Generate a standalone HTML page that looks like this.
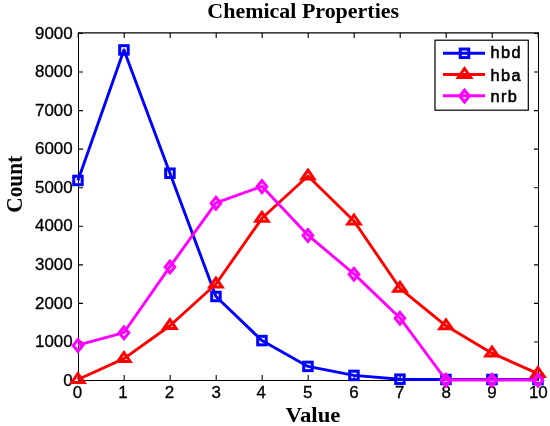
<!DOCTYPE html><html><head><meta charset="utf-8"><style>html,body{margin:0;padding:0;background:#fff;}svg{display:block}</style></head><body>
<svg width="550" height="426" viewBox="0 0 550 426">
<rect width="550" height="426" fill="#fff"/>
<path d="M78.5 32.3V381M538.5 32.3V381" stroke="#000" stroke-width="1" fill="none"/>
<path d="M78 32.9H539M78 380.5H539" stroke="#000" stroke-width="1.2" fill="none"/>
<path d="M78.20 380V375M78.20 33V38M124.20 380V375M124.20 33V38M170.20 380V375M170.20 33V38M216.20 380V375M216.20 33V38M262.20 380V375M262.20 33V38M308.20 380V375M308.20 33V38M354.20 380V375M354.20 33V38M400.20 380V375M400.20 33V38M446.20 380V375M446.20 33V38M492.20 380V375M492.20 33V38M538.20 380V375M538.20 33V38M78 380.50H83M539 380.50H534M78 341.94H83M539 341.94H534M78 303.39H83M539 303.39H534M78 264.83H83M539 264.83H534M78 226.28H83M539 226.28H534M78 187.72H83M539 187.72H534M78 149.16H83M539 149.16H534M78 110.61H83M539 110.61H534M78 72.05H83M539 72.05H534M78 33.50H83M539 33.50H534" stroke="#000" stroke-width="1.1" fill="none"/>
<g font-family="Liberation Sans, Arial, sans-serif" font-size="16" fill="#000" stroke="#000" stroke-width="0.3">
<text transform="translate(72.7,385.70) scale(1.06,1)" text-anchor="end">0</text>
<text transform="translate(72.7,347.14) scale(1.06,1)" text-anchor="end">1000</text>
<text transform="translate(72.7,308.59) scale(1.06,1)" text-anchor="end">2000</text>
<text transform="translate(72.7,270.03) scale(1.06,1)" text-anchor="end">3000</text>
<text transform="translate(72.7,231.48) scale(1.06,1)" text-anchor="end">4000</text>
<text transform="translate(72.7,192.92) scale(1.06,1)" text-anchor="end">5000</text>
<text transform="translate(72.7,154.36) scale(1.06,1)" text-anchor="end">6000</text>
<text transform="translate(72.7,115.81) scale(1.06,1)" text-anchor="end">7000</text>
<text transform="translate(72.7,77.25) scale(1.06,1)" text-anchor="end">8000</text>
<text transform="translate(72.7,38.70) scale(1.06,1)" text-anchor="end">9000</text>
<text transform="translate(77.35,398.3) scale(1.06,1)" text-anchor="middle">0</text>
<text transform="translate(122.85,398.3) scale(1.06,1)" text-anchor="middle">1</text>
<text transform="translate(169.35,398.3) scale(1.06,1)" text-anchor="middle">2</text>
<text transform="translate(216.25,398.3) scale(1.06,1)" text-anchor="middle">3</text>
<text transform="translate(261.20,398.3) scale(1.06,1)" text-anchor="middle">4</text>
<text transform="translate(307.80,398.3) scale(1.06,1)" text-anchor="middle">5</text>
<text transform="translate(354.05,398.3) scale(1.06,1)" text-anchor="middle">6</text>
<text transform="translate(399.70,398.3) scale(1.06,1)" text-anchor="middle">7</text>
<text transform="translate(446.25,398.3) scale(1.06,1)" text-anchor="middle">8</text>
<text transform="translate(492.05,398.3) scale(1.06,1)" text-anchor="middle">9</text>
<text transform="translate(538.35,398.3) scale(1.06,1)" text-anchor="middle">10</text>
</g>
<g font-family="Liberation Serif, Times New Roman, serif" font-weight="bold" fill="#000">
<text font-size="20" transform="translate(303.2,17.8) scale(1.098,1)" text-anchor="middle">Chemical Properties</text>
<text font-size="21" transform="translate(313,421.8) scale(1.085,1)" text-anchor="middle">Value</text>
<text font-size="21" transform="translate(21.6,184.3) rotate(-90) scale(1.016,1.08)" text-anchor="middle">Count</text>
</g>
<polyline points="77.95,180.46 123.95,49.94 169.95,173.22 215.95,296.49 261.95,340.58 307.95,366.41 353.95,375.42 399.95,379.19 445.95,379.50 491.95,379.50 537.95,379.50" fill="none" stroke="#00f" stroke-width="2.9" stroke-linejoin="round"/>
<rect x="73.70" y="176.21" width="8.5" height="8.5" fill="none" stroke="#00f" stroke-width="3"/>
<rect x="119.70" y="45.69" width="8.5" height="8.5" fill="none" stroke="#00f" stroke-width="3"/>
<rect x="165.70" y="168.97" width="8.5" height="8.5" fill="none" stroke="#00f" stroke-width="3"/>
<rect x="211.70" y="292.24" width="8.5" height="8.5" fill="none" stroke="#00f" stroke-width="3"/>
<rect x="257.70" y="336.33" width="8.5" height="8.5" fill="none" stroke="#00f" stroke-width="3"/>
<rect x="303.70" y="362.16" width="8.5" height="8.5" fill="none" stroke="#00f" stroke-width="3"/>
<rect x="349.70" y="371.17" width="8.5" height="8.5" fill="none" stroke="#00f" stroke-width="3"/>
<rect x="395.70" y="374.94" width="8.5" height="8.5" fill="none" stroke="#00f" stroke-width="3"/>
<rect x="441.70" y="375.25" width="8.5" height="8.5" fill="none" stroke="#00f" stroke-width="3"/>
<rect x="487.70" y="375.25" width="8.5" height="8.5" fill="none" stroke="#00f" stroke-width="3"/>
<rect x="533.70" y="375.25" width="8.5" height="8.5" fill="none" stroke="#00f" stroke-width="3"/>
<polyline points="77.95,379.50 123.95,358.56 169.95,325.72 215.95,284.02 261.95,218.30 307.95,176.03 353.95,221.00 399.95,288.29 445.95,325.79 491.95,353.20 537.95,373.61" fill="none" stroke="#f00" stroke-width="2.9" stroke-linejoin="round"/>
<path d="M77.95 373.50L84.15 382.40L71.75 382.40Z" fill="none" stroke="#f00" stroke-width="3" stroke-linejoin="miter"/>
<path d="M123.95 352.56L130.15 361.46L117.75 361.46Z" fill="none" stroke="#f00" stroke-width="3" stroke-linejoin="miter"/>
<path d="M169.95 319.72L176.15 328.62L163.75 328.62Z" fill="none" stroke="#f00" stroke-width="3" stroke-linejoin="miter"/>
<path d="M215.95 278.02L222.15 286.92L209.75 286.92Z" fill="none" stroke="#f00" stroke-width="3" stroke-linejoin="miter"/>
<path d="M261.95 212.30L268.15 221.20L255.75 221.20Z" fill="none" stroke="#f00" stroke-width="3" stroke-linejoin="miter"/>
<path d="M307.95 170.03L314.15 178.93L301.75 178.93Z" fill="none" stroke="#f00" stroke-width="3" stroke-linejoin="miter"/>
<path d="M353.95 215.00L360.15 223.90L347.75 223.90Z" fill="none" stroke="#f00" stroke-width="3" stroke-linejoin="miter"/>
<path d="M399.95 282.29L406.15 291.19L393.75 291.19Z" fill="none" stroke="#f00" stroke-width="3" stroke-linejoin="miter"/>
<path d="M445.95 319.79L452.15 328.69L439.75 328.69Z" fill="none" stroke="#f00" stroke-width="3" stroke-linejoin="miter"/>
<path d="M491.95 347.20L498.15 356.10L485.75 356.10Z" fill="none" stroke="#f00" stroke-width="3" stroke-linejoin="miter"/>
<path d="M537.95 367.61L544.15 376.51L531.75 376.51Z" fill="none" stroke="#f00" stroke-width="3" stroke-linejoin="miter"/>
<polyline points="77.95,345.16 123.95,332.53 169.95,266.69 215.95,202.90 261.95,186.31 307.95,235.16 353.95,273.89 399.95,317.98 445.95,380.00 491.95,380.00 537.95,380.00" fill="none" stroke="#f0f" stroke-width="2.9" stroke-linejoin="round"/>
<path d="M77.95 339.56L82.75 345.46L77.95 351.36L73.15 345.46Z" fill="none" stroke="#f0f" stroke-width="3"/>
<path d="M123.95 326.93L128.75 332.83L123.95 338.73L119.15 332.83Z" fill="none" stroke="#f0f" stroke-width="3"/>
<path d="M169.95 261.10L174.75 267.00L169.95 272.89L165.15 267.00Z" fill="none" stroke="#f0f" stroke-width="3"/>
<path d="M215.95 197.30L220.75 203.20L215.95 209.10L211.15 203.20Z" fill="none" stroke="#f0f" stroke-width="3"/>
<path d="M261.95 180.71L266.75 186.61L261.95 192.51L257.15 186.61Z" fill="none" stroke="#f0f" stroke-width="3"/>
<path d="M307.95 229.56L312.75 235.46L307.95 241.36L303.15 235.46Z" fill="none" stroke="#f0f" stroke-width="3"/>
<path d="M353.95 268.29L358.75 274.19L353.95 280.09L349.15 274.19Z" fill="none" stroke="#f0f" stroke-width="3"/>
<path d="M399.95 312.38L404.75 318.28L399.95 324.18L395.15 318.28Z" fill="none" stroke="#f0f" stroke-width="3"/>
<path d="M445.95 374.40L450.75 380.30L445.95 386.20L441.15 380.30Z" fill="none" stroke="#f0f" stroke-width="3"/>
<path d="M491.95 374.40L496.75 380.30L491.95 386.20L487.15 380.30Z" fill="none" stroke="#f0f" stroke-width="3"/>
<path d="M537.95 374.40L542.75 380.30L537.95 386.20L533.15 380.30Z" fill="none" stroke="#f0f" stroke-width="3"/>
<rect x="435" y="40.2" width="93.3" height="70" fill="#fff" stroke="#000" stroke-width="1.2"/>
<path d="M443 53.3H485" stroke="#00f" stroke-width="2.9"/>
<rect x="460.25" y="49.05" width="8.5" height="8.5" fill="none" stroke="#00f" stroke-width="3"/>
<text transform="translate(490.6,58.45) scale(1.02,1)" font-family="Liberation Sans, Arial, sans-serif" font-size="16" letter-spacing="1.3" stroke="#000" stroke-width="0.55">hbd</text>
<path d="M443 74.5H485" stroke="#f00" stroke-width="2.9"/>
<path d="M464.50 68.50L470.70 77.40L458.30 77.40Z" fill="none" stroke="#f00" stroke-width="3" stroke-linejoin="miter"/>
<text transform="translate(490.6,81.3) scale(1.02,1)" font-family="Liberation Sans, Arial, sans-serif" font-size="16" letter-spacing="1.3" stroke="#000" stroke-width="0.55">hba</text>
<path d="M443 95.8H485" stroke="#f0f" stroke-width="2.9"/>
<path d="M464.50 90.20L469.30 96.10L464.50 102.00L459.70 96.10Z" fill="none" stroke="#f0f" stroke-width="3"/>
<text transform="translate(490.6,102.35) scale(1.02,1)" font-family="Liberation Sans, Arial, sans-serif" font-size="16" letter-spacing="1.3" stroke="#000" stroke-width="0.55">nrb</text>
</svg></body></html>
